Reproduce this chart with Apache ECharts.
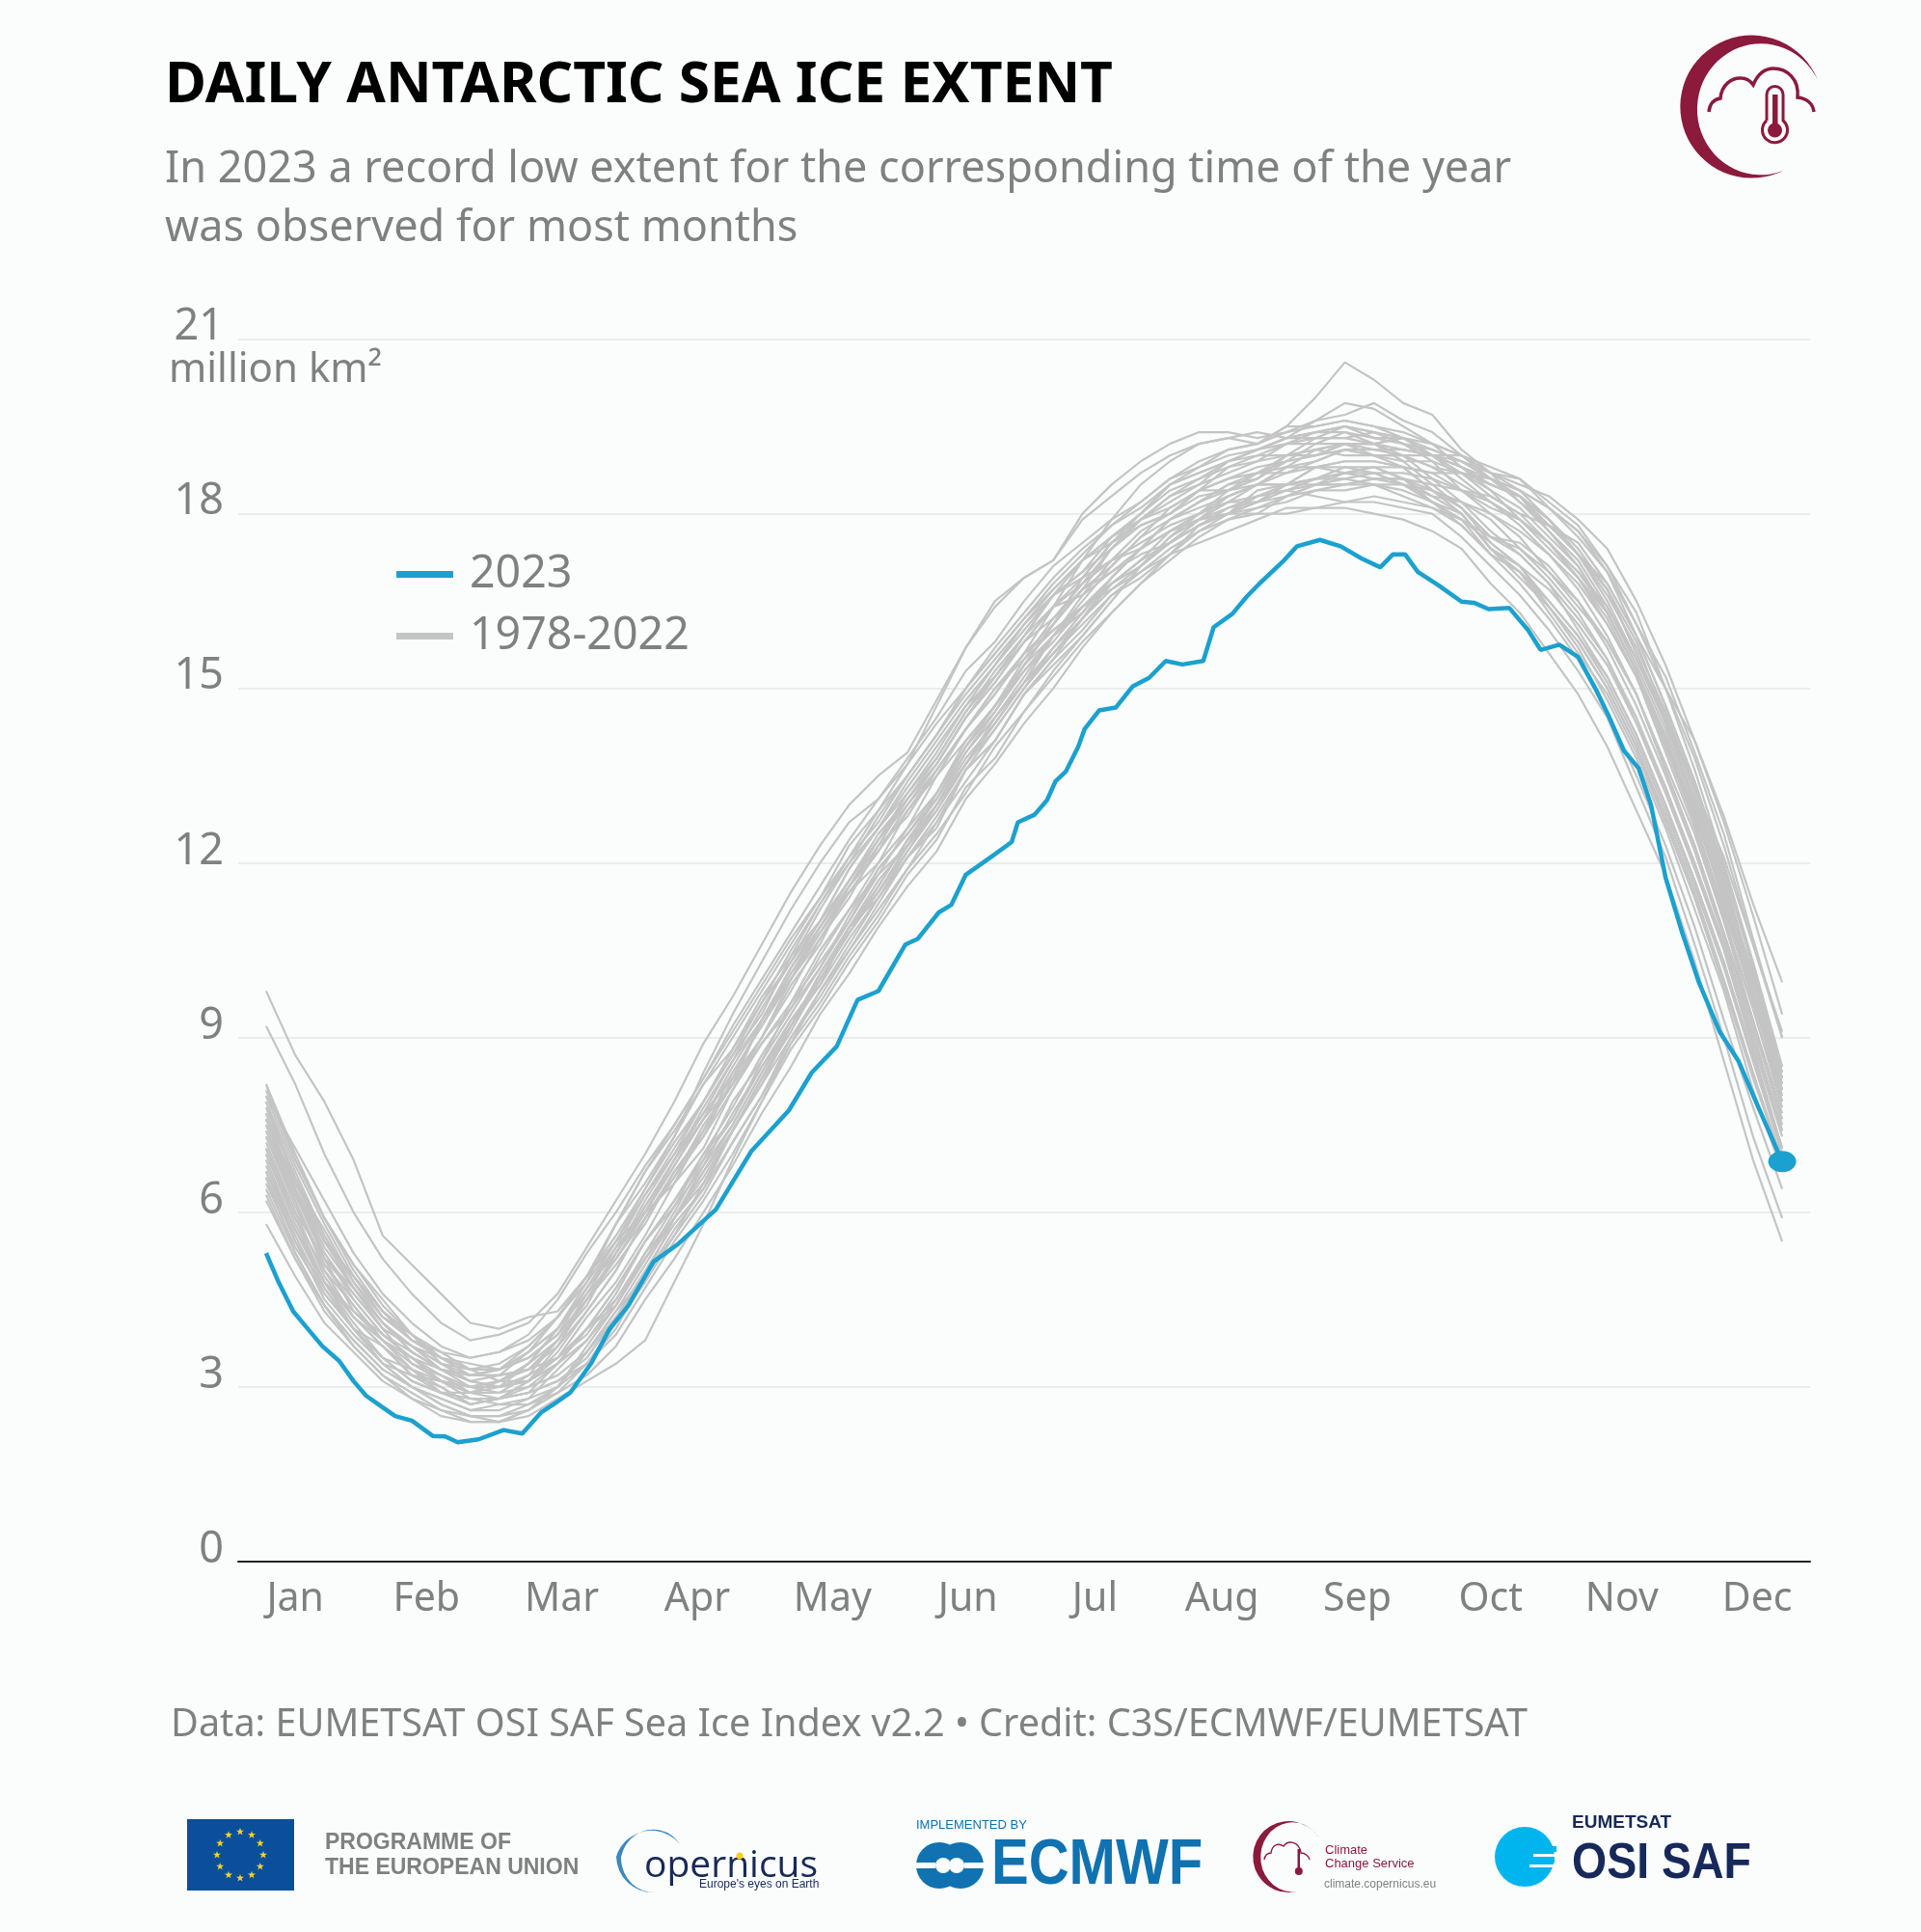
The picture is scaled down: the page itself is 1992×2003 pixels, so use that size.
<!DOCTYPE html>
<html>
<head>
<meta charset="utf-8">
<title>Daily Antarctic sea ice extent</title>
<script src="https://cdn.jsdelivr.net/npm/echarts@6/dist/echarts.min.js"></script>
<style>
  html, body { margin: 0; padding: 0; background: #fbfdfd; }
  #chart { width: 1992px; height: 2003px; }
</style>
</head>
<body>
<div id="chart"></div>
<script>
// y axis and month labels
var yTicks = [0, 3, 6, 9, 12, 15, 18, 21];
var monthNames = ['Jan', 'Feb', 'Mar', 'Apr', 'May', 'Jun', 'Jul', 'Aug', 'Sep', 'Oct', 'Nov', 'Dec'];
var monthLabelDays = [7, 38.5, 71, 103.5, 136, 168.5, 199, 229.5, 262, 294, 325.5, 358];

var days2023 = [0, 3, 6.5, 10, 13.5, 17.5, 21, 24, 27, 31, 35, 40, 43, 46, 51, 57, 61.5, 66, 70, 73, 78, 82.5, 87, 93, 99, 108, 116.5, 125.5, 131, 137, 142, 147, 153.5, 156.5, 161.5, 164.5, 168, 174, 179, 180.5, 184.5, 187.5, 189.5, 192, 195, 196.5, 200, 204, 208, 212, 216, 220, 225, 227.5, 232, 235.5, 238.5, 244, 247.5, 253, 258, 263, 267.5, 270.5, 273.5, 276.5, 281.5, 287, 290, 293.5, 298.5, 303, 306, 310.5, 315, 319.5, 322.5, 326, 329.5, 332.5, 336, 340, 344, 349, 353.5, 358, 364];
var ice2023 = [5.3, 4.8, 4.3, 4.0, 3.7, 3.45, 3.1, 2.85, 2.7, 2.5, 2.42, 2.16, 2.15, 2.05, 2.1, 2.26, 2.2, 2.56, 2.75, 2.9, 3.4, 4.0, 4.4, 5.15, 5.46, 6.05, 7.05, 7.75, 8.4, 8.85, 9.65, 9.8, 10.6, 10.7, 11.15, 11.28, 11.8, 12.1, 12.36, 12.7, 12.83, 13.08, 13.4, 13.57, 14.0, 14.3, 14.62, 14.67, 15.03, 15.18, 15.47, 15.41, 15.47, 16.05, 16.28, 16.58, 16.8, 17.17, 17.44, 17.55, 17.44, 17.23, 17.08, 17.3, 17.3, 17.0, 16.77, 16.49, 16.47, 16.36, 16.38, 16.0, 15.66, 15.75, 15.54, 14.95, 14.5, 13.93, 13.63, 13.0, 11.75, 10.8, 9.95, 9.1, 8.6, 7.85, 6.87];

// sampling days of the grey years, one point a week
var greyDays = [0, 7, 14, 21, 28, 35, 42, 49, 56, 63, 70, 77, 84, 91, 98, 105, 112, 119, 126, 133, 140, 147, 154, 161, 168, 175, 182, 189, 196, 203, 210, 217, 224, 231, 238, 245, 252, 259, 266, 273, 280, 287, 294, 301, 308, 315, 322, 329, 336, 343, 350, 357, 364];

// grey years 1978-2022, estimated by eye, not identified one by one
var grey01 = [9.8, 8.7, 7.9, 6.9, 5.6, 5.1, 4.6, 4.1, 4.0, 4.2, 4.3, 4.9, 5.5, 6.0, 6.5, 7.4, 8.2, 8.9, 9.5, 10.4, 11.2, 11.8, 12.6, 13.2, 14.0, 14.7, 15.3, 15.9, 16.4, 16.9, 17.4, 17.9, 18.1, 18.3, 18.5, 18.7, 18.8, 18.9, 18.9, 18.8, 18.7, 18.4, 18.2, 17.9, 17.4, 16.9, 16.1, 15.2, 14.0, 12.7, 11.1, 9.5, 7.9];
var grey02 = [9.2, 8.2, 7.0, 6.0, 5.2, 4.6, 4.1, 3.8, 3.9, 4.1, 4.6, 5.4, 6.2, 7.0, 7.9, 8.9, 9.7, 10.6, 11.5, 12.3, 13.0, 13.5, 13.9, 14.8, 15.7, 16.5, 16.9, 17.2, 17.9, 18.3, 18.7, 19.0, 19.2, 19.3, 19.4, 19.3, 19.4, 19.5, 19.4, 19.2, 19.0, 18.8, 18.6, 18.3, 17.8, 17.3, 16.6, 15.7, 14.6, 13.3, 11.8, 10.0, 8.3];
var grey03 = [8.2, 6.9, 5.9, 5.0, 4.3, 3.9, 3.5, 3.3, 3.3, 3.5, 3.9, 4.5, 5.2, 6.0, 6.8, 7.6, 8.4, 9.2, 10.0, 10.9, 11.7, 12.4, 13.1, 13.7, 14.5, 15.1, 15.8, 16.4, 17.2, 17.9, 18.5, 18.9, 19.2, 19.3, 19.2, 19.5, 20.0, 20.6, 20.3, 19.9, 19.7, 19.1, 18.7, 18.2, 17.7, 17.1, 16.3, 15.3, 14.1, 12.7, 11.2, 9.7, 8.1];
var grey04 = [8.0, 7.1, 6.2, 5.3, 4.6, 4.1, 3.7, 3.5, 3.6, 3.8, 4.2, 4.8, 5.5, 6.4, 7.3, 8.4, 9.4, 10.3, 11.2, 12.0, 12.7, 13.1, 13.7, 14.7, 15.7, 16.4, 16.9, 17.2, 18.0, 18.5, 18.9, 19.2, 19.4, 19.4, 19.3, 19.4, 19.6, 19.7, 19.9, 19.6, 19.4, 19.0, 18.6, 18.2, 17.8, 17.3, 16.8, 15.9, 15.0, 14.1, 12.8, 11.3, 9.95];
var grey05 = [7.6, 6.4, 5.4, 4.7, 4.1, 3.7, 3.4, 3.2, 3.3, 3.5, 3.9, 4.5, 5.3, 6.2, 7.0, 7.9, 8.7, 9.6, 10.5, 11.3, 12.0, 12.8, 13.5, 14.2, 15.0, 15.6, 16.2, 16.8, 17.3, 17.8, 18.2, 18.6, 18.8, 19.0, 19.1, 19.3, 19.6, 19.9, 19.8, 19.5, 19.2, 18.8, 18.4, 17.9, 17.5, 17.0, 16.4, 15.5, 14.5, 13.3, 12.1, 10.6, 9.1];
var grey06 = [6.6, 5.3, 4.4, 3.7, 3.2, 2.8, 2.5, 2.4, 2.4, 2.6, 2.9, 3.4, 4.1, 4.8, 5.6, 6.5, 7.4, 8.3, 9.2, 10.1, 10.9, 11.7, 12.3, 13.0, 13.8, 14.4, 15.1, 15.6, 16.2, 16.8, 17.2, 17.5, 17.8, 18.0, 18.0, 18.0, 18.1, 18.1, 18.0, 17.9, 17.7, 17.4, 16.8, 16.3, 15.6, 14.9, 14.0, 12.9, 11.8, 10.3, 8.6, 6.9, 5.5];
var grey07 = [5.8, 4.9, 4.1, 3.6, 3.1, 2.8, 2.6, 2.4, 2.4, 2.6, 3.0, 3.6, 4.3, 5.1, 5.9, 6.6, 7.4, 8.3, 9.1, 10.0, 10.8, 11.6, 12.4, 13.1, 13.9, 14.6, 15.3, 15.8, 16.4, 16.8, 17.1, 17.5, 17.9, 18.1, 18.3, 18.4, 18.3, 18.2, 18.2, 18.1, 18.0, 17.6, 17.1, 16.6, 16.0, 15.3, 14.5, 13.3, 12.1, 10.6, 9.0, 7.3, 5.9];
var grey08 = [6.3, 5.2, 4.4, 3.8, 3.3, 3.0, 2.7, 2.5, 2.4, 2.5, 2.8, 3.1, 3.4, 3.8, 4.8, 5.8, 6.9, 7.9, 8.9, 9.8, 10.6, 11.4, 12.1, 12.8, 13.6, 14.3, 15.0, 15.6, 16.2, 16.7, 17.1, 17.5, 17.8, 18.1, 18.2, 18.4, 18.6, 18.6, 18.5, 18.4, 18.2, 17.8, 17.3, 16.8, 16.2, 15.5, 14.6, 13.5, 12.3, 10.9, 9.3, 7.8, 6.4];
var grey09 = [7.9, 6.5, 5.7, 4.8, 4.2, 3.9, 3.4, 3.3, 3.1, 3.3, 3.5, 4.0, 4.4, 5.3, 5.9, 6.8, 7.5, 8.4, 9.3, 9.9, 10.9, 11.4, 12.2, 13.0, 13.7, 14.5, 15.1, 15.9, 16.5, 17.1, 17.6, 18.1, 18.4, 18.8, 18.9, 19.2, 19.2, 19.4, 19.2, 19.3, 19.0, 19.0, 18.7, 18.6, 18.1, 17.7, 17.0, 16.1, 15.0, 13.6, 12.0, 10.3, 8.5];
var grey10 = [6.5, 5.4, 4.6, 4.0, 3.4, 3.2, 2.9, 2.9, 3.0, 3.4, 4.0, 4.7, 5.5, 6.3, 7.1, 7.9, 8.7, 9.4, 10.4, 11.0, 11.9, 12.6, 13.2, 13.9, 14.7, 15.2, 15.9, 16.4, 16.8, 17.2, 17.4, 17.7, 17.9, 18.2, 18.2, 18.5, 18.6, 18.7, 18.6, 18.6, 18.2, 18.0, 17.4, 17.1, 16.4, 15.8, 15.0, 14.0, 12.7, 11.4, 9.9, 8.3, 6.9];
var grey11 = [7.4, 6.3, 5.2, 4.7, 4.0, 3.7, 3.3, 3.2, 3.2, 3.6, 4.0, 4.8, 5.8, 6.5, 7.3, 8.2, 8.8, 9.7, 10.4, 11.3, 12.1, 12.7, 13.5, 14.2, 14.9, 15.5, 16.1, 16.7, 17.2, 17.6, 17.9, 18.1, 18.4, 18.4, 18.7, 18.8, 19.1, 19.0, 19.0, 19.0, 18.8, 18.7, 18.5, 18.3, 17.7, 17.2, 16.4, 15.4, 14.3, 12.9, 11.5, 9.8, 8.2];
var grey12 = [7.0, 5.8, 4.8, 4.0, 3.7, 3.2, 3.0, 2.7, 2.8, 2.9, 3.1, 3.5, 4.2, 5.0, 5.8, 6.4, 7.4, 8.2, 9.0, 9.8, 10.5, 11.3, 12.1, 12.6, 13.6, 14.1, 14.9, 15.4, 15.9, 16.5, 17.1, 17.6, 18.0, 18.4, 18.6, 19.0, 19.0, 19.2, 19.2, 19.0, 18.6, 18.2, 17.7, 17.3, 16.8, 16.0, 15.2, 14.2, 13.0, 11.7, 10.3, 8.7, 7.1];
var grey13 = [7.7, 6.6, 5.5, 4.9, 4.2, 3.8, 3.5, 3.2, 3.2, 3.3, 3.8, 4.5, 5.1, 5.8, 6.7, 7.3, 8.3, 9.0, 10.0, 10.7, 11.4, 12.3, 12.8, 13.6, 14.3, 15.0, 15.6, 16.4, 16.9, 17.5, 17.9, 18.3, 18.5, 18.9, 19.0, 19.2, 19.3, 19.3, 19.4, 19.2, 19.1, 18.9, 18.6, 18.3, 17.9, 17.3, 16.7, 15.6, 14.5, 13.0, 11.6, 10.1, 8.3];
var grey14 = [6.7, 5.5, 4.7, 4.0, 3.5, 3.1, 2.9, 2.8, 2.7, 2.8, 3.3, 3.8, 4.5, 5.2, 6.0, 6.9, 7.6, 8.5, 9.2, 10.1, 10.9, 11.5, 12.3, 13.0, 13.7, 14.4, 15.1, 15.6, 16.1, 16.6, 17.0, 17.4, 17.7, 18.0, 18.1, 18.3, 18.5, 18.5, 18.6, 18.6, 18.5, 18.4, 18.1, 17.9, 17.5, 17.0, 16.3, 15.3, 14.0, 12.9, 11.3, 9.6, 8.1];
var grey15 = [8.1, 6.9, 5.9, 5.1, 4.5, 3.9, 3.6, 3.3, 3.3, 3.6, 4.0, 4.6, 5.4, 6.0, 6.9, 7.6, 8.5, 9.3, 10.2, 10.9, 11.6, 12.4, 13.0, 13.7, 14.5, 15.1, 15.8, 16.2, 16.7, 17.0, 17.4, 17.7, 18.0, 18.2, 18.3, 18.4, 18.5, 18.7, 18.8, 18.8, 18.7, 18.7, 18.6, 18.4, 18.1, 17.7, 17.1, 16.1, 15.2, 13.9, 12.5, 10.7, 9.0];
var grey16 = [7.1, 5.9, 4.8, 4.3, 3.9, 3.5, 3.3, 3.2, 3.3, 3.6, 4.2, 4.9, 5.8, 6.7, 7.5, 8.3, 9.1, 9.9, 10.7, 11.4, 12.3, 12.9, 13.7, 14.4, 15.0, 15.7, 16.3, 16.9, 17.4, 17.8, 18.1, 18.5, 18.7, 18.9, 19.1, 19.3, 19.4, 19.5, 19.4, 19.3, 19.0, 18.6, 18.2, 17.8, 17.3, 16.7, 15.9, 14.9, 13.7, 12.5, 11.0, 9.3, 7.7];
var grey17 = [7.5, 6.3, 5.3, 4.6, 4.0, 3.4, 3.1, 2.9, 2.8, 2.9, 3.1, 3.4, 4.0, 4.9, 5.6, 6.3, 7.2, 8.0, 8.9, 9.6, 10.4, 11.1, 11.9, 12.5, 13.2, 14.0, 14.6, 15.3, 15.9, 16.5, 17.1, 17.6, 17.9, 18.3, 18.5, 18.5, 18.8, 18.7, 18.8, 18.6, 18.3, 18.0, 17.4, 16.9, 16.4, 15.7, 14.8, 13.8, 12.6, 11.2, 9.8, 8.1, 6.7];
var grey18 = [6.8, 5.7, 4.8, 4.2, 3.7, 3.2, 3.1, 2.8, 2.8, 3.1, 3.7, 4.5, 5.3, 6.1, 6.9, 7.8, 8.6, 9.3, 10.2, 11.0, 11.7, 12.5, 13.1, 13.8, 14.6, 15.2, 15.8, 16.4, 16.6, 17.0, 17.3, 17.5, 17.8, 18.0, 18.2, 18.5, 18.5, 18.6, 18.7, 18.7, 18.6, 18.4, 18.3, 18.0, 17.8, 17.5, 16.8, 15.9, 14.7, 13.4, 11.9, 10.2, 8.4];
var grey19 = [7.3, 6.1, 5.1, 4.5, 3.9, 3.6, 3.3, 3.0, 3.1, 3.1, 3.5, 3.9, 4.6, 5.5, 6.1, 7.0, 7.6, 8.6, 9.4, 10.2, 11.0, 11.8, 12.3, 13.2, 14.0, 14.6, 15.4, 16.1, 16.9, 17.5, 18.0, 18.5, 18.8, 19.1, 19.2, 19.4, 19.5, 19.6, 19.5, 19.3, 19.0, 18.7, 18.3, 18.0, 17.5, 16.9, 16.2, 15.2, 14.1, 12.7, 11.2, 9.7, 7.9];
var grey20 = [7.8, 6.6, 5.6, 4.8, 4.1, 3.6, 3.3, 3.1, 3.0, 3.2, 3.5, 4.2, 4.8, 5.6, 6.5, 7.1, 8.1, 8.9, 9.6, 10.5, 11.2, 12.0, 12.6, 13.5, 14.1, 14.7, 15.4, 15.9, 16.3, 16.9, 17.4, 17.7, 18.0, 18.2, 18.5, 18.5, 18.8, 18.8, 18.8, 18.6, 18.4, 18.1, 17.6, 17.3, 16.8, 16.2, 15.5, 14.4, 13.3, 11.9, 10.6, 8.9, 7.3];
var grey21 = [6.6, 5.5, 4.5, 3.9, 3.4, 3.0, 2.8, 2.6, 2.6, 2.8, 3.0, 3.4, 3.9, 4.7, 5.5, 6.2, 7.0, 7.9, 8.8, 9.5, 10.3, 11.0, 11.8, 12.4, 13.3, 13.8, 14.6, 15.2, 15.8, 16.3, 16.8, 17.2, 17.6, 17.9, 18.1, 18.2, 18.4, 18.4, 18.5, 18.5, 18.3, 18.2, 18.0, 17.7, 17.3, 16.8, 16.1, 15.2, 13.9, 12.6, 11.0, 9.5, 7.8];
var grey22 = [7.6, 6.4, 5.2, 4.6, 4.0, 3.7, 3.5, 3.3, 3.4, 3.7, 4.2, 4.9, 5.6, 6.4, 7.2, 7.9, 8.8, 9.6, 10.3, 11.2, 12.0, 12.6, 13.4, 14.1, 14.8, 15.4, 16.1, 16.6, 17.0, 17.4, 17.8, 18.0, 18.4, 18.6, 18.8, 18.9, 19.2, 19.2, 19.2, 19.1, 19.0, 18.8, 18.5, 18.3, 17.9, 17.3, 16.5, 15.5, 14.4, 13.0, 11.6, 9.9, 8.3];
var grey23 = [7.0, 5.9, 5.0, 4.2, 3.7, 3.3, 2.9, 2.8, 2.8, 2.9, 3.4, 4.0, 4.7, 5.5, 6.2, 6.9, 7.9, 8.6, 9.6, 10.3, 11.0, 11.9, 12.5, 13.2, 14.1, 14.7, 15.5, 16.2, 16.8, 17.4, 17.9, 18.2, 18.5, 18.7, 18.9, 19.0, 19.1, 19.2, 19.0, 18.8, 18.4, 18.0, 17.4, 17.0, 16.3, 15.6, 14.9, 13.9, 12.7, 11.4, 9.9, 8.4, 6.9];
var grey24 = [8.0, 6.8, 5.8, 4.9, 4.3, 3.8, 3.5, 3.3, 3.3, 3.7, 4.2, 4.9, 5.8, 6.7, 7.4, 8.2, 9.0, 9.8, 10.6, 11.4, 12.1, 12.9, 13.5, 14.2, 15.0, 15.6, 16.2, 16.7, 17.2, 17.5, 17.8, 18.0, 18.3, 18.4, 18.7, 18.9, 19.0, 19.2, 19.2, 19.3, 19.1, 18.9, 18.7, 18.5, 18.3, 17.9, 17.4, 16.5, 15.4, 14.1, 12.7, 11.1, 9.4];
var grey25 = [6.4, 5.3, 4.4, 3.8, 3.3, 3.0, 2.7, 2.5, 2.5, 2.7, 3.0, 3.6, 4.3, 4.9, 5.9, 6.5, 7.4, 8.2, 9.2, 9.9, 10.7, 11.4, 12.1, 12.7, 13.6, 14.1, 14.9, 15.5, 16.0, 16.6, 16.9, 17.3, 17.7, 17.9, 18.0, 18.3, 18.4, 18.5, 18.5, 18.3, 18.1, 17.8, 17.3, 17.0, 16.5, 15.9, 15.2, 14.2, 13.0, 11.7, 10.3, 8.6, 7.0];
var grey26 = [7.2, 6.0, 5.2, 4.3, 3.8, 3.5, 3.1, 3.0, 3.1, 3.4, 3.8, 4.4, 5.3, 6.0, 6.8, 7.6, 8.2, 9.3, 10.0, 10.8, 11.6, 12.3, 13.1, 13.7, 14.5, 15.2, 15.9, 16.6, 17.0, 17.6, 18.0, 18.4, 18.6, 18.9, 19.1, 19.2, 19.4, 19.4, 19.3, 19.2, 18.9, 18.4, 18.0, 17.6, 17.0, 16.4, 15.8, 14.9, 13.6, 12.3, 10.8, 9.2, 7.6];
var grey27 = [7.5, 6.4, 5.5, 4.7, 4.1, 3.7, 3.4, 3.1, 3.0, 3.1, 3.4, 3.8, 4.4, 5.2, 5.9, 6.7, 7.5, 8.4, 9.2, 10.0, 10.8, 11.5, 12.2, 12.9, 13.7, 14.3, 15.0, 15.7, 16.3, 16.9, 17.4, 17.9, 18.2, 18.5, 18.7, 18.7, 18.9, 19.1, 19.0, 19.0, 19.0, 18.8, 18.5, 18.3, 17.9, 17.4, 16.7, 15.8, 14.5, 13.2, 11.7, 10.0, 8.2];
var grey28 = [6.9, 5.7, 4.7, 4.0, 3.5, 3.3, 3.0, 2.7, 2.8, 3.1, 3.6, 4.3, 5.0, 5.9, 6.6, 7.5, 8.2, 9.0, 9.9, 10.6, 11.6, 12.2, 12.9, 13.6, 14.3, 15.0, 15.5, 16.0, 16.4, 16.8, 17.2, 17.7, 17.9, 18.0, 18.4, 18.5, 18.6, 18.7, 18.7, 18.5, 18.4, 18.1, 17.6, 17.4, 16.9, 16.3, 15.5, 14.5, 13.3, 12.0, 10.6, 9.0, 7.4];
var grey29 = [7.7, 6.4, 5.3, 4.5, 3.9, 3.5, 3.2, 3.0, 2.9, 3.0, 3.2, 3.6, 4.2, 4.9, 5.7, 6.4, 7.2, 8.0, 9.0, 9.7, 10.5, 11.2, 11.9, 12.7, 13.4, 14.1, 14.9, 15.5, 16.2, 16.9, 17.4, 17.9, 18.2, 18.5, 18.6, 18.9, 19.0, 19.1, 19.1, 19.0, 18.8, 18.5, 18.2, 17.9, 17.5, 16.9, 16.3, 15.3, 14.2, 12.8, 11.4, 9.7, 8.1];
var grey30 = [7.3, 6.2, 5.0, 4.4, 3.8, 3.4, 3.2, 2.9, 3.1, 3.4, 4.0, 4.7, 5.4, 6.3, 7.0, 7.7, 8.6, 9.5, 10.3, 11.0, 11.9, 12.6, 13.3, 14.0, 14.7, 15.4, 16.0, 16.6, 16.9, 17.2, 17.5, 17.8, 18.0, 18.3, 18.5, 18.8, 18.8, 18.9, 18.9, 18.8, 18.4, 18.2, 17.9, 17.4, 17.0, 16.5, 15.7, 14.7, 13.5, 12.2, 10.7, 9.1, 7.4];
var grey31 = [6.7, 5.7, 4.8, 4.1, 3.5, 3.1, 2.9, 2.7, 2.8, 3.0, 3.4, 4.0, 4.7, 5.5, 6.2, 7.0, 7.8, 8.7, 9.5, 10.2, 11.1, 11.9, 12.5, 13.1, 14.0, 14.7, 15.4, 16.1, 16.7, 17.4, 17.9, 18.3, 18.6, 18.8, 19.0, 19.0, 19.3, 19.3, 19.2, 18.9, 18.5, 18.1, 17.5, 17.1, 16.5, 15.9, 15.1, 14.1, 12.9, 11.6, 10.2, 8.6, 7.1];
var grey32 = [8.2, 7.0, 5.9, 5.1, 4.4, 3.9, 3.5, 3.4, 3.3, 3.5, 3.9, 4.7, 5.3, 6.1, 6.9, 7.7, 8.3, 9.3, 10.1, 10.9, 11.7, 12.4, 13.2, 13.8, 14.6, 15.3, 15.9, 16.6, 17.2, 17.6, 18.0, 18.5, 18.7, 18.9, 19.1, 19.3, 19.3, 19.5, 19.3, 19.3, 19.2, 19.0, 18.8, 18.6, 18.2, 17.8, 17.1, 16.3, 15.0, 13.8, 12.3, 10.6, 9.0];
var grey33 = [7.1, 6.0, 4.9, 4.2, 3.8, 3.3, 3.1, 2.9, 2.9, 3.2, 3.8, 4.6, 5.2, 5.9, 6.7, 7.4, 8.4, 9.2, 10.1, 10.8, 11.5, 12.2, 13.0, 13.6, 14.3, 14.9, 15.6, 16.0, 16.4, 16.7, 17.0, 17.3, 17.5, 17.7, 17.9, 18.1, 18.1, 18.2, 18.3, 18.2, 18.1, 17.9, 17.6, 17.5, 17.1, 16.5, 15.8, 14.9, 13.6, 12.3, 10.8, 9.3, 7.5];
var grey34 = [7.4, 6.2, 5.1, 4.4, 3.8, 3.5, 3.1, 3.0, 3.0, 3.1, 3.4, 4.0, 4.5, 5.3, 6.1, 6.8, 7.7, 8.5, 9.3, 10.0, 10.9, 11.6, 12.4, 13.0, 13.9, 14.5, 15.2, 15.9, 16.6, 17.2, 17.7, 18.0, 18.4, 18.6, 18.7, 19.0, 19.1, 19.2, 19.1, 19.1, 19.0, 18.9, 18.6, 18.4, 18.1, 17.6, 17.0, 15.9, 14.7, 13.4, 11.9, 10.2, 8.5];
var grey35 = [6.2, 5.2, 4.3, 3.7, 3.2, 2.9, 2.6, 2.5, 2.5, 2.6, 3.0, 3.7, 4.4, 5.2, 5.9, 6.7, 7.4, 8.3, 9.2, 10.0, 10.8, 11.5, 12.3, 12.9, 13.7, 14.4, 15.1, 15.7, 16.2, 16.8, 17.2, 17.5, 17.9, 18.0, 18.3, 18.5, 18.6, 18.8, 18.7, 18.5, 18.2, 17.9, 17.3, 17.0, 16.4, 15.8, 15.0, 14.0, 12.8, 11.5, 10.0, 8.4, 6.8];
var grey36 = [7.9, 6.7, 5.6, 4.7, 4.1, 3.6, 3.3, 3.1, 3.2, 3.3, 3.7, 4.3, 5.0, 5.9, 6.6, 7.3, 8.1, 9.0, 9.8, 10.7, 11.5, 12.0, 12.9, 13.5, 14.3, 14.9, 15.6, 16.1, 16.7, 17.1, 17.6, 17.9, 18.2, 18.4, 18.5, 18.8, 18.9, 19.1, 19.0, 18.9, 18.9, 18.7, 18.4, 18.1, 17.6, 17.1, 16.3, 15.3, 14.1, 12.8, 11.4, 9.7, 8.0];
var grey37 = [7.6, 6.5, 5.5, 4.9, 4.3, 3.8, 3.6, 3.5, 3.6, 3.9, 4.5, 5.3, 6.0, 6.8, 7.5, 8.3, 9.2, 10.0, 10.8, 11.6, 12.4, 13.1, 13.8, 14.5, 15.3, 15.8, 16.5, 17.1, 17.5, 17.9, 18.2, 18.6, 18.9, 19.1, 19.2, 19.5, 19.5, 19.6, 19.5, 19.4, 19.2, 19.0, 18.7, 18.4, 17.9, 17.3, 16.7, 15.6, 14.4, 13.1, 11.7, 10.0, 8.4];
var grey38 = [6.7, 5.6, 4.6, 4.0, 3.4, 3.0, 2.8, 2.6, 2.7, 2.7, 2.9, 3.2, 3.7, 4.5, 5.2, 6.0, 6.8, 7.7, 8.5, 9.4, 10.1, 10.9, 11.6, 12.2, 13.1, 13.7, 14.4, 15.0, 15.7, 16.3, 16.8, 17.3, 17.8, 18.0, 18.2, 18.3, 18.5, 18.5, 18.6, 18.5, 18.2, 17.9, 17.5, 17.1, 16.7, 16.1, 15.4, 14.4, 13.2, 11.9, 10.5, 8.8, 7.1];
var greyYears = [grey01, grey02, grey03, grey04, grey05, grey06, grey07, grey08, grey09, grey10, grey11, grey12, grey13, grey14, grey15, grey16, grey17, grey18, grey19, grey20, grey21, grey22, grey23, grey24, grey25, grey26, grey27, grey28, grey29, grey30, grey31, grey32, grey33, grey34, grey35, grey36, grey37, grey38];

var GREY_TEXT = '#808080';
var GREY_LINE = '#c4c4c4';
var BLUE = '#1ba1cf';
var MAROON = '#8b1a3c';
var NAVY = '#17295a';
var ECMWF_BLUE = '#1072b0';
var BG = '#fbfdfd';
var FONT = '"Noto Sans", sans-serif';
var LOGO_FONT = '"Liberation Sans", Arial, sans-serif';

function zip(xs, ys) {
  return xs.map(function (x, i) { return [x, ys[i]]; });
}

// texts and logos around the chart
function txt(text, x, y, size, fill, weight, family, sx, sy) {
  return {
    type: 'text', silent: true,
    originX: x, originY: y, scaleX: sx || 1, scaleY: sy || 1,
    style: {
      text: text, x: x, y: y, fontSize: size, fill: fill,
      fontWeight: weight || 'normal', fontFamily: family || FONT, verticalAlign: 'middle'
    }
  };
}
// the graphic component has no plain path type, so each logo path gets its own shape
var shapeCount = 0;
function pathEl(d, fill, stroke, lw) {
  var name = 'logoShape' + (shapeCount++);
  echarts.graphic.registerShape(name, echarts.graphic.extendPath(d, {}));
  return {
    type: name, silent: true,
    style: { fill: fill || 'none', stroke: stroke || 'none', lineWidth: lw || 0 }
  };
}
function circleEl(cx, cy, r, fill) {
  return { type: 'circle', silent: true, shape: { cx: cx, cy: cy, r: r }, style: { fill: fill } };
}
function rectEl(x, y, w, h, fill) {
  return { type: 'rect', silent: true, shape: { x: x, y: y, width: w, height: h }, style: { fill: fill } };
}

var graphics = [
  txt('DAILY ANTARCTIC SEA ICE EXTENT', 171, 89, 58.7, '#000000', 'bold'),
  txt('In 2023 a record low extent for the corresponding time of the year', 171, 176, 45, GREY_TEXT),
  txt('was observed for most months', 171, 237, 45, GREY_TEXT),
  txt('million km²', 175, 384, 42, GREY_TEXT),
  txt('Data: EUMETSAT OSI SAF Sea Ice Index v2.2 • Credit: C3S/ECMWF/EUMETSAT', 177, 1789, 39.6, GREY_TEXT),

  // C3S logo, top right
  pathEl('M1885 83A74 74 0 1 0 1849 177A66 68 0 1 1 1885 83Z', MAROON),
  pathEl('M1772 116C1773 107 1777 103 1784 102C1785 88 1796 80 1806 81C1811 81 1815 84 1818 88C1823 76 1831 71 1839 71C1853 71 1866 82 1864 101C1873 102 1880 107 1881 116', null, MAROON, 3.5),
  pathEl('M1832 125V98A8.5 8.5 0 0 1 1849 98V125A13 13 0 1 1 1832 125', null, MAROON, 3),
  rectEl(1838, 98, 5.5, 34, MAROON),
  circleEl(1840.5, 135, 7.5, MAROON),

  // EU flag
  rectEl(194, 1886, 111, 74, '#0b4f9c'),
  txt('PROGRAMME OF', 337, 1911, 23, GREY_TEXT, 'bold', LOGO_FONT),
  txt('THE EUROPEAN UNION', 337, 1937, 23, GREY_TEXT, 'bold', LOGO_FONT),

  // Copernicus
  pathEl('M705 1912A38 38 0 0 0 639 1925A38 38 0 0 0 686 1961A34 36 0 0 1 644 1925A34 36 0 0 1 705 1912Z', '#3c87c0'),
  txt('opernicus', 668, 1935, 39, NAVY, 'normal', '"Open Sans", sans-serif'),
  circleEl(767, 1924, 3.5, '#f7d117'),
  txt('Europe\'s eyes on Earth', 725, 1954, 12, NAVY, 'normal', LOGO_FONT),

  // ECMWF
  txt('IMPLEMENTED BY', 950, 1892, 13, ECMWF_BLUE, 'normal', LOGO_FONT),
  circleEl(974, 1934, 24, ECMWF_BLUE),
  circleEl(996, 1934, 24, ECMWF_BLUE),
  circleEl(978, 1934, 8, BG),
  circleEl(992, 1934, 8, BG),
  rectEl(950, 1931, 20, 6, BG),
  rectEl(1000, 1931, 20, 6, BG),
  txt('ECMWF', 1028, 1935, 58, ECMWF_BLUE, 'bold', LOGO_FONT, 1, 1.15),

  // Climate Change Service
  pathEl('M1368 1906A37 37 0 1 0 1345 1961A33 36 0 1 1 1368 1906Z', MAROON),
  pathEl('M1311 1928C1312 1922 1315 1921 1318 1921C1319 1913 1325 1910 1331 1914C1335 1908 1347 1908 1349 1921C1353 1921 1357 1924 1358 1928', null, MAROON, 1.4),
  rectEl(1345.5, 1917, 2.5, 22, MAROON),
  circleEl(1346.8, 1940, 4, MAROON),
  txt('Climate', 1374, 1918, 13, MAROON, 'normal', LOGO_FONT),
  txt('Change Service', 1374, 1932, 13, MAROON, 'normal', LOGO_FONT),
  txt('climate.copernicus.eu', 1373, 1954, 12, GREY_TEXT, 'normal', LOGO_FONT),

  // OSI SAF
  circleEl(1581, 1925, 31, '#00b5ee'),
  rectEl(1595, 1914, 19, 6, '#00b5ee'),
  rectEl(1590, 1922, 24, 3, BG),
  rectEl(1595, 1926, 17, 5, '#00b5ee'),
  rectEl(1586, 1933, 28, 3, BG),
  txt('EUMETSAT', 1630, 1890, 19, NAVY, 'bold', LOGO_FONT),
  txt('OSI SAF', 1630, 1933, 50, NAVY, 'bold', LOGO_FONT, 0.93, 1.02)
];

// flag stars
echarts.graphic.registerShape('flagStar', echarts.graphic.extendPath('M0 -4L1 -1.2L4 -1.2L1.6 .6L2.5 3.5L0 1.8L-2.5 3.5L-1.6 .6L-4 -1.2L-1 -1.2Z', {}));
var starCx = 249, starCy = 1923;
for (var s = 0; s < 12; s++) {
  var a = s * Math.PI / 6;
  graphics.push({
    type: 'flagStar', silent: true,
    x: starCx + 24 * Math.sin(a), y: starCy - 24 * Math.cos(a),
    style: { fill: '#f6d32d' }
  });
}

var greySeries = greyYears.map(function (vals) {
  return {
    name: '1978-2022',
    type: 'line',
    data: zip(greyDays, vals),
    showSymbol: false,
    color: GREY_LINE,
    lineStyle: { color: GREY_LINE, width: 2.2 },
    z: 2,
    silent: true
  };
});

var chart = echarts.init(document.getElementById('chart'), null, { renderer: 'canvas' });
chart.setOption({
  animation: false,
  backgroundColor: BG,
  textStyle: { fontFamily: FONT },
  grid: { left: 247, right: 115, top: 351.5, bottom: 384, containLabel: false },
  legend: {
    data: ['2023', '1978-2022'],
    orient: 'vertical',
    left: 406,
    top: 567,
    icon: 'rect',
    itemWidth: 59,
    itemHeight: 7,
    itemGap: 17,
    selectedMode: false,
    textStyle: { color: GREY_TEXT, fontSize: 46.5, fontFamily: FONT, padding: [0, 0, 0, 12] }
  },
  xAxis: {
    type: 'value',
    min: -6.7,
    max: 370.7,
    splitLine: { show: false },
    axisTick: { show: false },
    axisLine: { show: true, onZero: false, lineStyle: { color: '#222222', width: 2 } },
    axisLabel: {
      customValues: monthLabelDays,
      color: GREY_TEXT,
      fontSize: 41,
      margin: 19,
      formatter: function (v) { return monthNames[monthLabelDays.indexOf(v)]; }
    }
  },
  yAxis: {
    type: 'value',
    min: 0,
    max: 21,
    interval: 3,
    axisLine: { show: false },
    axisTick: { show: false },
    splitLine: {
      lineStyle: { color: '#e6e6e6', width: 1.5 },
      showMinLine: false
    },
    axisLabel: {
      color: GREY_TEXT,
      fontSize: 45,
      margin: 15,
      verticalAlign: 'bottom',
      lineHeight: 24,
      formatter: function (v) { return yTicks.indexOf(v) >= 0 ? String(v) : ''; }
    }
  },
  series: greySeries.concat([
    {
      name: '2023',
      type: 'line',
      data: zip(days2023, ice2023),
      showSymbol: false,
      color: BLUE,
      lineStyle: { color: BLUE, width: 4.5 },
      z: 5,
      silent: true
    },
    {
      name: '2023 end',
      type: 'scatter',
      data: [[days2023[days2023.length - 1], ice2023[ice2023.length - 1]]],
      symbol: 'circle',
      symbolSize: [29, 22],
      itemStyle: { color: BLUE, opacity: 1 },
      z: 6,
      silent: true
    }
  ]),
  graphic: graphics
});
</script>
</body>
</html>
